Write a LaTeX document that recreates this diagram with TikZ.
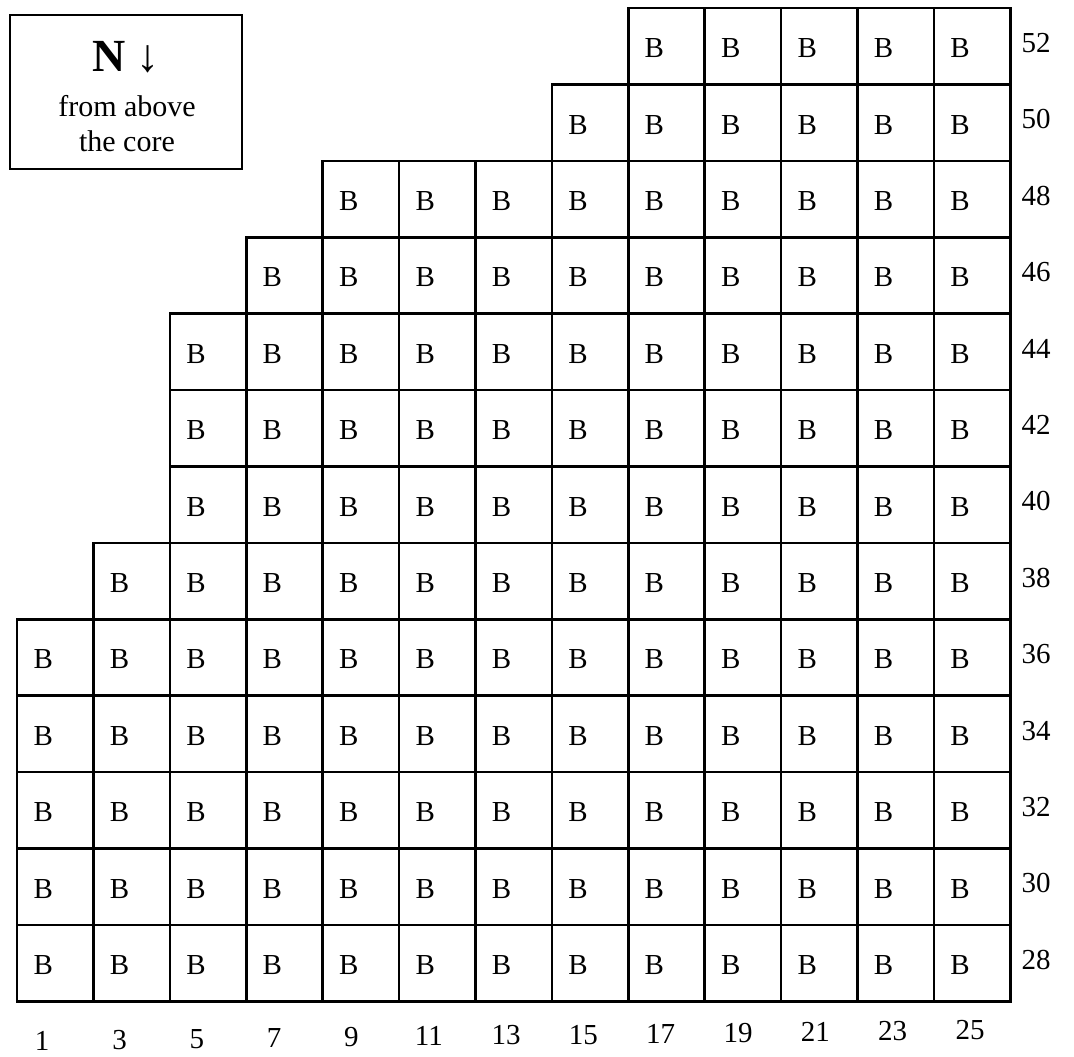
\documentclass[tikz,border=0pt]{standalone}
\usepackage{fontspec}
\setmainfont{Liberation Serif}
\begin{document}
\begin{tikzpicture}[x=1pt,y=-1pt,
  cell/.style={draw, line width=2.6pt, minimum size=76.4pt, inner sep=0pt, outer sep=0pt},
  btxt/.style={font=\fontsize{29}{29}\selectfont, inner sep=0pt},
  lbl/.style={font=\fontsize{29}{29}\selectfont, inner sep=0pt},
  legendbox/.style={draw, line width=2.6pt, minimum width=232pt, minimum height=154pt, inner sep=0pt}]
\useasboundingbox (0,0) rectangle (1074,1057);
\fill[white] (0,0) rectangle (1074,1057);
% legend
\node[legendbox] (legend) at (126,92) {};
\node[inner sep=0pt, font=\fontsize{46}{46}\selectfont\bfseries] (north) at (126,57) {N ↓};
\node[inner sep=0pt, align=center, font=\fontsize{30}{35}\selectfont] (fromabove) at (127,124) {from above\\the core};
% grid
\foreach \r/\start [count=\j from 0] in {52/8,50/7,48/4,46/3,44/2,42/2,40/2,38/1,36/0,34/0,32/0,30/0,28/0} {
  \foreach \i in {\start,...,12} {
    \pgfmathtruncatemacro\c{2*\i+1}
    \node[cell] (c\c-\r) at ({17+76.4*\i+38.2},{8+76.4*\j+38.2}) {};
    \node[btxt] (b\c-\r) at ([xshift=-12pt,yshift=-2pt]c\c-\r.center) {B};
  }
  \node[lbl] (r\r) at (1036,{8+76.4*\j+35}) {\r};
}
% column labels
\foreach \i in {0,...,12} {
  \pgfmathtruncatemacro\c{2*\i+1}
  \node[lbl] (col\c) at ({17+76.4*\i+38.2-13+11*\i/12},{1041-11*\i/12}) {\c};
}
\end{tikzpicture}
\end{document}
